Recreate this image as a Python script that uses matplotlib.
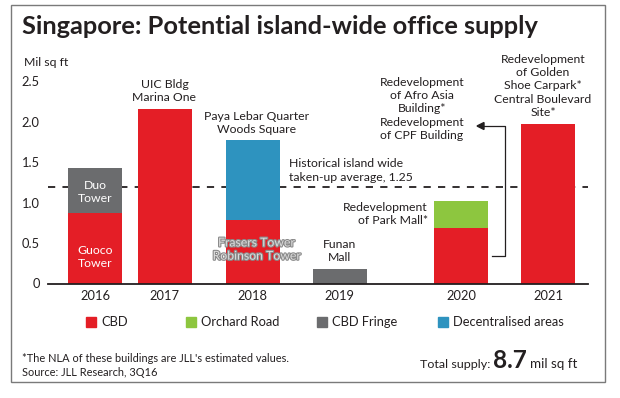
import matplotlib
matplotlib.use("Agg")
import matplotlib.pyplot as plt
import matplotlib.patheffects as pe
from matplotlib.patches import Rectangle
from matplotlib.lines import Line2D

plt.rcParams["font.family"] = ["Lato", "DejaVu Sans"]

W, H = 620, 398

years = ["2016", "2017", "2018", "2019", "2020", "2021"]
cbd = [0.87, 2.16, 0.78, 0.0, 0.69, 1.98]
orchard = [0.0, 0.0, 0.0, 0.0, 0.33, 0.0]
fringe = [0.56, 0.0, 0.0, 0.18, 0.0, 0.0]
decentral = [0.0, 0.0, 0.99, 0.0, 0.0, 0.0]
avg_takeup = 1.2
yticks = [0, 0.5, 1.0, 1.5, 2.0, 2.5]
ytick_labels = ["0", "0.5", "1.0", "1.5", "2.0", "2.5"]
legend_items = ["CBD", "Orchard Road", "CBD Fringe", "Decentralised areas"]

RED = "#e41e26"
GREEN = "#8dc63f"
GREY = "#6b6c6e"
BLUE = "#2e93bf"
TXT = "#231f20"

# bar centres, in pixel units along x
xpos = [95, 164.5, 252.5, 339.5, 461, 548]
bw = 54
LS = 1.25


def fx(px):
    return px / W


def fy(py):
    return 1 - py / H


fig = plt.figure(figsize=(W / 100, H / 100), dpi=100)
fig.patch.set_facecolor("white")
renderer = fig.canvas.get_renderer()


def fit(t, width_px):
    # scale the font so the text spans width_px
    w = t.get_window_extent(renderer).width
    t.set_fontsize(t.get_fontsize() * width_px / w)
    return t


# work out a label size from a reference string
probe = fig.text(0, 0, "Redevelopment", fontsize=10)
fs = 10 * 85 / probe.get_window_extent(renderer).width
probe.remove()

# outer frame
fig.add_artist(Rectangle((fx(11), fy(382)), fx(605) - fx(11), fy(5) - fy(382),
                         transform=fig.transFigure, fill=False,
                         edgecolor="#7a7a7a", lw=1.0))

ax = fig.add_axes([fx(48), fy(283.5), fx(588) - fx(48), fy(81.5) - fy(283.5)])
ax.set_xlim(48, 588)
ax.set_ylim(0, 2.5)
for s in ["top", "right", "left"]:
    ax.spines[s].set_visible(False)
ax.spines["bottom"].set_linewidth(1.3)
ax.spines["bottom"].set_color(TXT)
ax.set_yticks(yticks)
ax.set_yticklabels(ytick_labels)
ax.tick_params(axis="y", length=0, pad=6, labelsize=fs * 1.05, labelcolor=TXT)
ax.set_xticks(xpos)
ax.set_xticklabels(years)
ax.tick_params(axis="x", length=0, pad=5, labelsize=fs * 1.05, labelcolor=TXT)
ax.patch.set_alpha(0)

bottom = [0.0] * len(years)
for vals, col in [(cbd, RED), (fringe, GREY), (decentral, BLUE), (orchard, GREEN)]:
    ax.bar(xpos, vals, width=bw, bottom=bottom, color=col, zorder=2)
    bottom = [b + v for b, v in zip(bottom, vals)]

ax.axhline(avg_takeup, color=TXT, lw=1.3, ls=(0, (4, 4)), zorder=1)

# texts on the chart
ax.text(xpos[0], cbd[0] + fringe[0] / 2 - 0.02, "Duo\nTower", color="white", ha="center",
        va="center", fontsize=fs, linespacing=LS, zorder=3)
ax.text(xpos[0], 0.33, "Guoco\nTower", color="white", ha="center",
        va="center", fontsize=fs, linespacing=LS, zorder=3)
ax.text(xpos[1], cbd[1] + 0.07, "UIC Bldg\nMarina One", color=TXT, ha="center",
        va="bottom", fontsize=fs, linespacing=LS)
ax.text(xpos[2] + 4, cbd[2] + decentral[2] + 0.07, "Paya Lebar Quarter\nWoods Square",
        color=TXT, ha="center", va="bottom", fontsize=fs, linespacing=LS)
ax.text(xpos[2] + 4, 0.42, "Frasers Tower\nRobinson Tower", color="#dcdcdc",
        ha="center", va="center", fontsize=fs, linespacing=LS, zorder=3,
        path_effects=[pe.withStroke(linewidth=1.6, foreground="#8a8a8a")])
ax.text(xpos[3], fringe[3] + 0.07, "Funan\nMall", color=TXT, ha="center",
        va="bottom", fontsize=fs, linespacing=LS)
ax.text(428, 0.86, "Redevelopment\nof Park Mall*", color=TXT, ha="right",
        va="center", fontsize=fs, linespacing=LS)
ax.text(289, 1.40, "Historical island wide\ntaken-up average, 1.25", color=TXT,
        ha="left", va="center", fontsize=fs, linespacing=LS)
ax.text(xpos[5] - 5, cbd[5] + 0.07,
        "Redevelopment\nof Golden\nShoe Carpark*\nCentral Boulevard\nSite*",
        color=TXT, ha="center", va="bottom", fontsize=fs, linespacing=LS)

fig.text(fx(422), fy(109), "Redevelopment\nof Afro Asia\nBuilding*\nRedevelopment\nof CPF Building",
         color=TXT, ha="center", va="center", fontsize=fs, linespacing=LS)

# elbow arrow from 2020 bar to the label
fig.add_artist(Line2D([fx(492), fx(505), fx(505), fx(482)],
                      [fy(256), fy(256), fy(126), fy(126)],
                      transform=fig.transFigure, color=TXT, lw=0.9))
fig.add_artist(plt.Polygon([[fx(477), fy(126)], [fx(484), fy(122.5)], [fx(484), fy(129.5)]],
                           closed=True, transform=fig.transFigure, color=TXT))

# title and axis unit
fit(fig.text(fx(22), fy(27), "Singapore: Potential island-wide office supply", color=TXT,
             ha="left", va="center", fontsize=17, fontweight="bold"), 516)
fig.text(fx(24), fy(63), "Mil sq ft", color=TXT, ha="left", va="center", fontsize=fs)

# legend
legend_cols = [RED, GREEN, GREY, BLUE]
legend_x = [86, 186, 317, 438]
for name, col, lx in zip(legend_items, legend_cols, legend_x):
    fig.add_artist(Rectangle((fx(lx), fy(327)), fx(10), 10 / H,
                             transform=fig.transFigure, color=col))
    fig.text(fx(lx + 15), fy(322), name, color=TXT, ha="left", va="center",
             fontsize=fs * 1.05)

# footnote
note = fit(fig.text(fx(22), fy(359), "*The NLA of these buildings are JLL's estimated values.",
                    color=TXT, ha="left", va="center", fontsize=9), 266)
fig.text(fx(22), fy(373), "Source: JLL Research, 3Q16", color=TXT, ha="left",
         va="center", fontsize=note.get_fontsize())

# total supply
fit(fig.text(fx(490), fy(368), "Total supply:", color=TXT, ha="right", va="baseline",
             fontsize=11), 70)
fit(fig.text(fx(493), fy(368), "8.7", color=TXT, ha="left", va="baseline", fontsize=20,
             fontweight="bold"), 34)
fit(fig.text(fx(530), fy(368), "mil sq ft", color=TXT, ha="left", va="baseline",
             fontsize=11), 47)

fig.savefig("out.png", dpi=100)
